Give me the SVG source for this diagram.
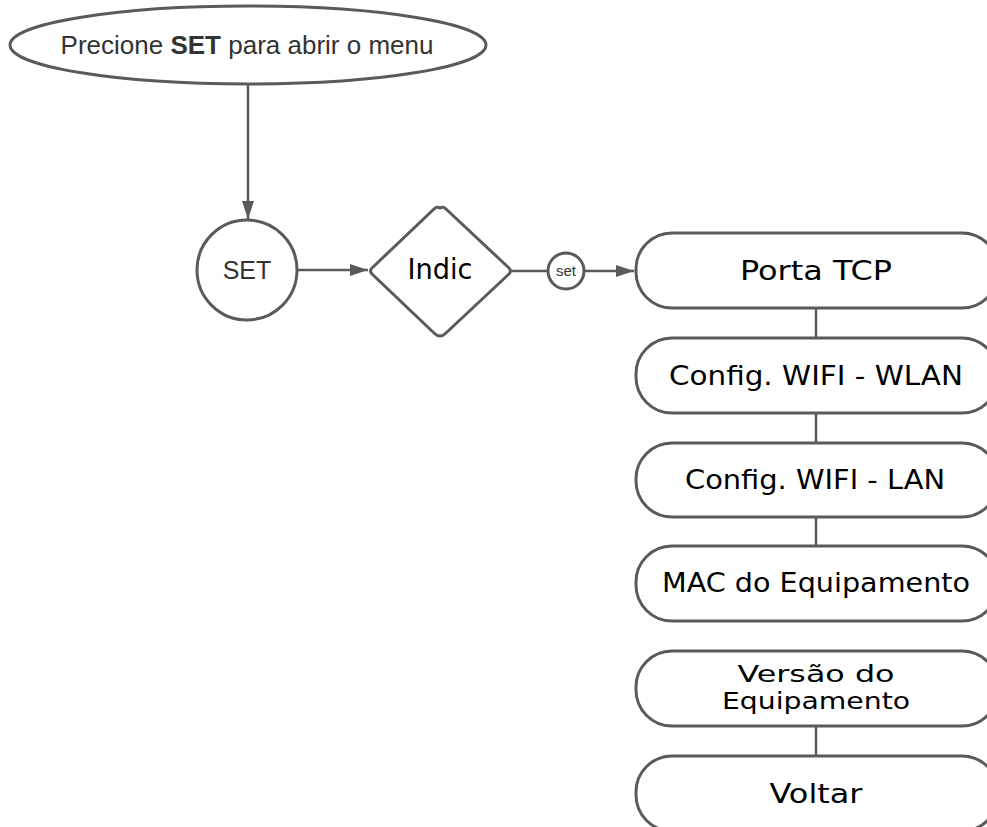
<svg xmlns="http://www.w3.org/2000/svg" width="987" height="827" viewBox="0 0 987 827">
<defs>
<marker id="ah" viewBox="0 0 18 12" refX="18" refY="6" markerWidth="18" markerHeight="12" markerUnits="userSpaceOnUse" orient="auto">
<path d="M0,0 L18,6 L0,12 Z" fill="#5a5a5a"/>
</marker>
<style>
.shape{fill:#fff;stroke:#5a5a5a;stroke-width:3}
.conn{fill:none;stroke:#5a5a5a;stroke-width:2.5}
.sans{font-family:"Liberation Sans",Arial,sans-serif;fill:#333;text-anchor:middle}
.box{font-family:"DejaVu Sans","Liberation Sans",sans-serif;fill:#000;text-anchor:middle;font-size:27px}
</style>
</defs>
<rect width="987" height="827" fill="#fff"/>
<g id="connectors">
<line class="conn" x1="248" y1="85" x2="248" y2="219" marker-end="url(#ah)"/>
<line class="conn" x1="298" y1="270" x2="368" y2="270" marker-end="url(#ah)"/>
<line class="conn" x1="512" y1="271" x2="548" y2="271"/>
<line class="conn" x1="584" y1="271" x2="634" y2="271" marker-end="url(#ah)"/>
<line class="conn" x1="816" y1="308" x2="816" y2="338"/>
<line class="conn" x1="816" y1="413" x2="816" y2="443"/>
<line class="conn" x1="816" y1="517" x2="816" y2="546"/>
<line class="conn" x1="816" y1="726" x2="816" y2="756"/>
</g>
<g id="start">
<ellipse class="shape" cx="248" cy="45" rx="238" ry="39"/>
<text class="sans" x="247" y="54" style="font-size:26px">Precione <tspan font-weight="bold">SET</tspan> para abrir o menu</text>
</g>
<g id="set">
<circle class="shape" cx="247" cy="270" r="50"/>
<text class="sans" x="247" y="279" style="font-size:25px">SET</text>
</g>
<g id="indic">
<path class="shape" d="M440,208 Q443,206 446,209 L509,268 Q512,271 509,274 L446,333 Q443,336 440,336 Q437,336 434,333 L372,274 Q369,271 372,268 L434,209 Q437,206 440,208 Z"/>
<text class="box" x="440" y="279" style="font-size:28px" textLength="65" lengthAdjust="spacingAndGlyphs">Indic</text>
</g>
<g id="set-label">
<circle class="shape" cx="566" cy="271" r="18" stroke-width="2.5"/>
<text class="sans" x="566" y="276" style="font-size:15px">set</text>
</g>
<g id="porta-tcp">
<rect class="shape" x="636" y="233" width="362" height="75" rx="36"/>
<text class="box" x="816" y="280" textLength="152" lengthAdjust="spacingAndGlyphs">Porta TCP</text>
</g>
<g id="wifi-wlan">
<rect class="shape" x="636" y="338" width="362" height="75" rx="36"/>
<text class="box" x="816" y="385" textLength="294" lengthAdjust="spacingAndGlyphs">Config. WIFI - WLAN</text>
</g>
<g id="wifi-lan">
<rect class="shape" x="636" y="443" width="362" height="74" rx="36"/>
<text class="box" x="815" y="489" textLength="260" lengthAdjust="spacingAndGlyphs">Config. WIFI - LAN</text>
</g>
<g id="mac">
<rect class="shape" x="636" y="546" width="362" height="75" rx="36"/>
<text class="box" x="816" y="592" textLength="308" lengthAdjust="spacingAndGlyphs">MAC do Equipamento</text>
</g>
<g id="versao">
<rect class="shape" x="636" y="651" width="362" height="75" rx="36"/>
<text class="box" x="816" y="682" style="font-size:23px" textLength="157" lengthAdjust="spacingAndGlyphs">Versão do</text>
<text class="box" x="816" y="709" style="font-size:23px" textLength="188" lengthAdjust="spacingAndGlyphs">Equipamento</text>
</g>
<g id="voltar">
<rect class="shape" x="636" y="756" width="362" height="75" rx="36"/>
<text class="box" x="816" y="803" textLength="93" lengthAdjust="spacingAndGlyphs">Voltar</text>
</g>
</svg>
